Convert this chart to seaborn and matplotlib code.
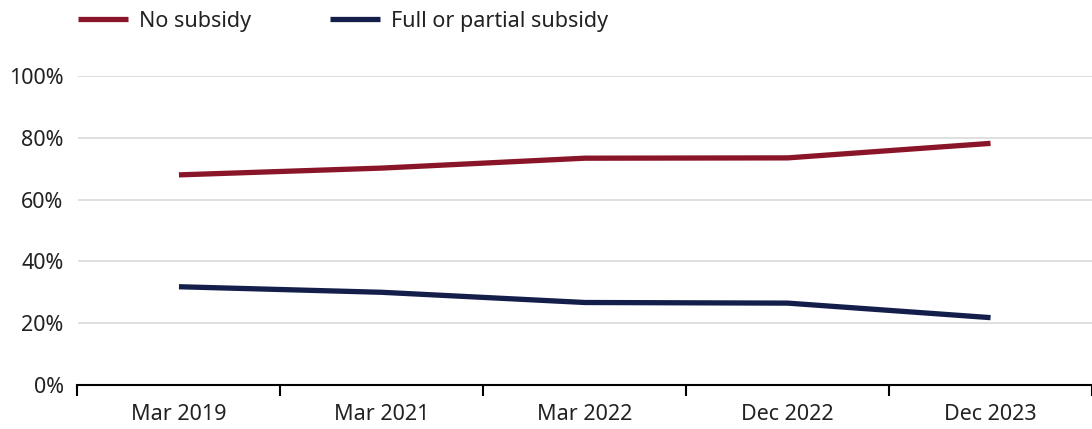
import matplotlib
matplotlib.use("Agg")
import matplotlib.pyplot as plt
import pandas as pd
import seaborn as sns

# data
periods = ["Mar 2019", "Mar 2021", "Mar 2022", "Dec 2022", "Dec 2023"]
no_subsidy = [68.0, 70.2, 73.4, 73.5, 78.2]
full_or_partial = [31.8, 30.0, 26.7, 26.5, 21.8]
series_names = ["No subsidy", "Full or partial subsidy"]
colors = ["#8A1528", "#141E4A"]

df = pd.DataFrame({
    "period": periods * 2,
    "x": list(range(len(periods))) * 2,
    "value": no_subsidy + full_or_partial,
    "series": [series_names[0]] * len(periods) + [series_names[1]] * len(periods),
})

sns.set_style("white")
plt.rcParams["font.family"] = ["Noto Sans", "DejaVu Sans"]
plt.rcParams["text.color"] = "#222222"

W, H = 1092, 429
left = 77.5
cat_w = 204.5
fig = plt.figure(figsize=(W / 100, H / 100), dpi=100)
ax = fig.add_axes([left / W, (H - 385) / H, (W - left) / W, (385 - 76) / H])

sns.lineplot(data=df, x="x", y="value", hue="series", hue_order=series_names,
             palette=colors, linewidth=3.8, ax=ax, legend=False)
for ln in ax.lines:
    ln.set_solid_capstyle("butt")

ax.set_ylim(0, 100)
ax.set_yticks(range(0, 101, 20))
ax.set_yticklabels([f"{v}%" for v in range(0, 101, 20)], fontsize=15.5, color="#222222")
ax.yaxis.grid(True, color="#d9d9d9", linewidth=1.2)
ax.set_axisbelow(True)

# categories centred between boundary ticks
ax.set_xlim(-0.5, -0.5 + (W - left) / cat_w)
ax.set_xticks([i - 0.5 for i in range(len(periods) + 1)])
ax.set_xticklabels([])
ax.set_xticks(range(len(periods)), minor=True)
ax.set_xticklabels(periods, minor=True, fontsize=15.5, color="#222222")
ax.tick_params(axis="x", which="major", bottom=True, direction="out",
               length=8, width=1.5, color="black")
ax.tick_params(axis="x", which="minor", bottom=True, length=0, pad=14)
ax.tick_params(axis="y", length=0, pad=10)
ax.set_xlabel("")
ax.set_ylabel("")

for side in ["top", "right", "left"]:
    ax.spines[side].set_visible(False)
ax.spines["bottom"].set_color("black")
ax.spines["bottom"].set_linewidth(1.5)

handles = [plt.Line2D([], [], color=c, linewidth=3.8, solid_capstyle="butt") for c in colors]
fig.legend(handles, series_names, loc="upper left", bbox_to_anchor=(59 / W, 1.02),
           ncol=2, frameon=False, fontsize=15.5, handlelength=2.3,
           handletextpad=0.5, columnspacing=3.7)

fig.savefig("out.png", dpi=100)
